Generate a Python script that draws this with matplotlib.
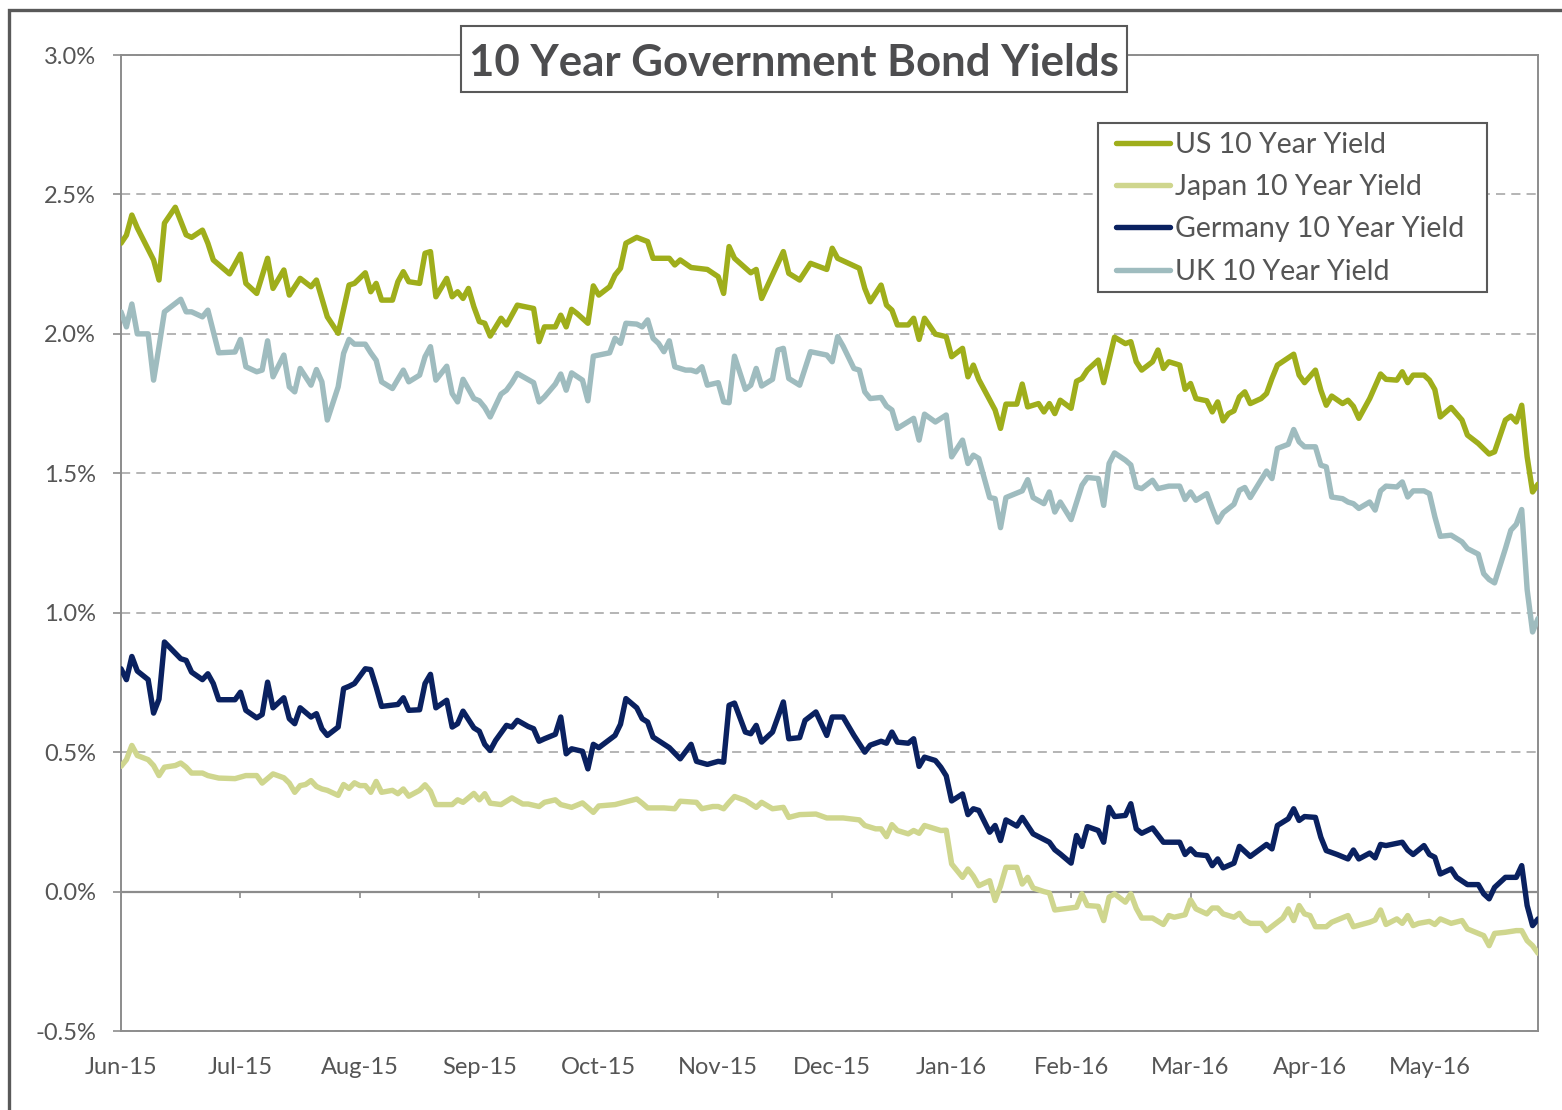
import numpy as np
import matplotlib
matplotlib.use("Agg")
import matplotlib.pyplot as plt
from matplotlib.patches import Rectangle

plt.rcParams['font.family'] = ['Lato', 'DejaVu Sans']

# trading-day index (0 = first day of the chart) and 10y yield in %
US_10Y = [(0, 2.325), (1, 2.354), (2, 2.426), (3, 2.380), (6, 2.265), (7, 2.193), (8, 2.397), (10, 2.454),
          (12, 2.355), (13, 2.346), (15, 2.372), (16, 2.325), (17, 2.265), (20, 2.215), (22, 2.286), (23, 2.181),
          (25, 2.145), (27, 2.271), (28, 2.163), (30, 2.229), (31, 2.139), (33, 2.199), (35, 2.169), (36, 2.193),
          (38, 2.061), (40, 2.002), (42, 2.175), (43, 2.181), (45, 2.219), (46, 2.151), (47, 2.181), (48, 2.121),
          (50, 2.121), (51, 2.187), (52, 2.223), (53, 2.187), (55, 2.181), (56, 2.289), (57, 2.295), (58, 2.133),
          (60, 2.199), (61, 2.133), (62, 2.151), (63, 2.127), (64, 2.163), (65, 2.097), (66, 2.044), (67, 2.038),
          (68, 1.992), (70, 2.056), (71, 2.032), (73, 2.103), (76, 2.091), (77, 1.972), (78, 2.025), (80, 2.025),
          (81, 2.067), (82, 2.025), (83, 2.088), (84, 2.073), (86, 2.038), (87, 2.172), (88, 2.139), (90, 2.169),
          (91, 2.211), (92, 2.235), (93, 2.325), (95, 2.346), (97, 2.331), (98, 2.271), (101, 2.271), (102, 2.247),
          (103, 2.265), (105, 2.238), (108, 2.231), (110, 2.205), (111, 2.145), (112, 2.313), (113, 2.271),
          (116, 2.219), (117, 2.231), (118, 2.127), (122, 2.295), (123, 2.217), (125, 2.193), (127, 2.253),
          (130, 2.231), (131, 2.307), (132, 2.271), (136, 2.235), (137, 2.163), (138, 2.115), (140, 2.175),
          (141, 2.103), (142, 2.085), (143, 2.032), (145, 2.032), (146, 2.056), (147, 1.980), (148, 2.056),
          (150, 1.999), (152, 1.990), (153, 1.918), (155, 1.948), (156, 1.846), (157, 1.888), (158, 1.836),
          (161, 1.727), (162, 1.661), (163, 1.748), (165, 1.748), (166, 1.820), (167, 1.738), (169, 1.750),
          (170, 1.720), (171, 1.750), (172, 1.714), (173, 1.762), (175, 1.733), (176, 1.830), (177, 1.840),
          (178, 1.870), (180, 1.906), (181, 1.825), (183, 1.988), (185, 1.965), (186, 1.972), (187, 1.900),
          (188, 1.870), (190, 1.900), (191, 1.942), (192, 1.876), (193, 1.900), (195, 1.888), (196, 1.801),
          (197, 1.822), (198, 1.768), (200, 1.760), (201, 1.720), (202, 1.756), (203, 1.688), (204, 1.714),
          (205, 1.724), (206, 1.774), (207, 1.792), (208, 1.750), (210, 1.768), (211, 1.786), (212, 1.840),
          (213, 1.888), (216, 1.927), (217, 1.852), (218, 1.825), (220, 1.870), (221, 1.798), (222, 1.744),
          (223, 1.777), (225, 1.750), (226, 1.762), (227, 1.740), (228, 1.697), (230, 1.768), (232, 1.856),
          (233, 1.837), (235, 1.834), (236, 1.864), (237, 1.825), (238, 1.852), (240, 1.852), (241, 1.834),
          (242, 1.800), (243, 1.702), (245, 1.736), (247, 1.691), (248, 1.637), (250, 1.607), (252, 1.569),
          (253, 1.577), (255, 1.691), (256, 1.705), (257, 1.684), (258, 1.744), (259, 1.559), (260, 1.433),
          (261, 1.461)]

JAPAN_10Y = [(0, 0.449), (1, 0.473), (2, 0.524), (3, 0.488), (5, 0.473), (6, 0.452), (7, 0.416), (8, 0.446),
             (10, 0.452), (11, 0.461), (12, 0.446), (13, 0.425), (15, 0.425), (16, 0.416), (18, 0.407), (21, 0.405),
             (23, 0.416), (25, 0.416), (26, 0.389), (28, 0.422), (30, 0.408), (31, 0.389), (32, 0.356), (33, 0.380),
             (34, 0.384), (35, 0.398), (36, 0.377), (37, 0.368), (38, 0.363), (40, 0.345), (41, 0.384), (42, 0.370),
             (43, 0.390), (44, 0.380), (45, 0.380), (46, 0.356), (47, 0.395), (48, 0.356), (50, 0.363), (51, 0.351),
             (52, 0.368), (53, 0.342), (55, 0.363), (56, 0.383), (57, 0.360), (58, 0.312), (61, 0.312), (62, 0.329),
             (63, 0.320), (65, 0.352), (66, 0.329), (67, 0.351), (68, 0.317), (70, 0.312), (72, 0.336), (74, 0.314),
             (75, 0.314), (77, 0.305), (78, 0.320), (80, 0.329), (81, 0.312), (83, 0.302), (85, 0.318), (87, 0.284),
             (88, 0.307), (91, 0.312), (92, 0.317), (95, 0.332), (96, 0.317), (97, 0.300), (100, 0.300), (102, 0.297),
             (103, 0.324), (106, 0.320), (107, 0.297), (109, 0.305), (110, 0.305), (111, 0.297), (112, 0.320),
             (113, 0.341), (115, 0.327), (117, 0.302), (118, 0.320), (120, 0.297), (122, 0.302), (123, 0.266),
             (125, 0.276), (128, 0.278), (130, 0.264), (133, 0.264), (136, 0.257), (137, 0.237), (139, 0.225),
             (140, 0.225), (141, 0.197), (142, 0.240), (143, 0.219), (145, 0.207), (146, 0.219), (147, 0.209),
             (148, 0.237), (151, 0.219), (152, 0.220), (153, 0.099), (154, 0.075), (155, 0.051), (156, 0.081),
             (157, 0.055), (158, 0.021), (160, 0.039), (161, -0.032), (162, 0.020), (163, 0.087), (165, 0.087),
             (166, 0.027), (167, 0.051), (168, 0.013), (170, 0.000), (171, -0.005), (172, -0.066), (176, -0.056),
             (177, -0.008), (178, -0.050), (180, -0.053), (181, -0.104), (182, -0.020), (183, -0.008), (185, -0.038),
             (186, -0.008), (187, -0.060), (188, -0.095), (190, -0.095), (192, -0.118), (193, -0.086), (194, -0.092),
             (196, -0.083), (197, -0.030), (198, -0.062), (200, -0.080), (201, -0.059), (202, -0.059), (203, -0.080),
             (205, -0.092), (206, -0.078), (207, -0.104), (208, -0.114), (210, -0.114), (211, -0.140), (213, -0.110),
             (214, -0.095), (215, -0.062), (216, -0.104), (217, -0.050), (218, -0.080), (219, -0.086), (220, -0.126),
             (222, -0.126), (223, -0.110), (226, -0.086), (227, -0.126), (230, -0.110), (231, -0.102), (232, -0.066),
             (233, -0.118), (235, -0.098), (236, -0.114), (237, -0.086), (238, -0.122), (239, -0.114), (241, -0.107),
             (242, -0.118), (243, -0.098), (245, -0.114), (247, -0.104), (248, -0.134), (249, -0.142), (251, -0.158),
             (252, -0.194), (253, -0.150), (255, -0.146), (257, -0.140), (258, -0.140), (259, -0.176), (260, -0.194),
             (261, -0.221)]

GERMANY_10Y = [(0, 0.799), (1, 0.760), (2, 0.843), (3, 0.791), (5, 0.760), (6, 0.640), (7, 0.690), (8, 0.895),
               (11, 0.835), (12, 0.829), (13, 0.787), (15, 0.760), (16, 0.781), (17, 0.746), (18, 0.688), (21, 0.688),
               (22, 0.715), (23, 0.650), (25, 0.623), (26, 0.635), (27, 0.751), (28, 0.659), (30, 0.695), (31, 0.620),
               (32, 0.602), (33, 0.659), (35, 0.626), (36, 0.638), (37, 0.584), (38, 0.560), (40, 0.590), (41, 0.728),
               (42, 0.736), (43, 0.746), (45, 0.799), (46, 0.796), (47, 0.733), (48, 0.664), (51, 0.671), (52, 0.695),
               (53, 0.650), (55, 0.652), (56, 0.746), (57, 0.779), (58, 0.659), (60, 0.686), (61, 0.590), (62, 0.602),
               (63, 0.647), (65, 0.587), (66, 0.575), (67, 0.528), (68, 0.506), (69, 0.542), (71, 0.596), (72, 0.590),
               (73, 0.614), (75, 0.592), (76, 0.584), (77, 0.539), (78, 0.548), (80, 0.564), (81, 0.626), (82, 0.494),
               (83, 0.512), (85, 0.503), (86, 0.440), (87, 0.528), (88, 0.516), (91, 0.560), (92, 0.600), (93, 0.692),
               (95, 0.659), (96, 0.620), (97, 0.608), (98, 0.554), (101, 0.516), (103, 0.476), (105, 0.528),
               (106, 0.467), (108, 0.456), (110, 0.467), (111, 0.464), (112, 0.668), (113, 0.676), (115, 0.572),
               (116, 0.566), (117, 0.596), (118, 0.536), (120, 0.572), (122, 0.680), (123, 0.548), (125, 0.552),
               (126, 0.614), (128, 0.644), (130, 0.560), (131, 0.626), (133, 0.626), (135, 0.560), (137, 0.500),
               (138, 0.525), (140, 0.539), (141, 0.532), (142, 0.572), (143, 0.536), (145, 0.532), (146, 0.548),
               (147, 0.449), (148, 0.482), (150, 0.470), (151, 0.446), (152, 0.415), (153, 0.325), (155, 0.350),
               (156, 0.276), (157, 0.297), (158, 0.291), (160, 0.213), (161, 0.237), (162, 0.183), (163, 0.257),
               (165, 0.235), (166, 0.266), (168, 0.207), (171, 0.177), (172, 0.150), (173, 0.135), (175, 0.102),
               (176, 0.201), (177, 0.162), (178, 0.233), (180, 0.219), (181, 0.177), (182, 0.302), (183, 0.269),
               (185, 0.273), (186, 0.315), (187, 0.225), (188, 0.209), (190, 0.228), (192, 0.177), (195, 0.177),
               (196, 0.133), (197, 0.153), (198, 0.133), (200, 0.129), (201, 0.093), (202, 0.117), (203, 0.085),
               (205, 0.102), (206, 0.162), (208, 0.126), (211, 0.169), (212, 0.153), (213, 0.237), (215, 0.261),
               (216, 0.297), (217, 0.255), (218, 0.269), (220, 0.266), (221, 0.195), (222, 0.147), (224, 0.133),
               (226, 0.117), (227, 0.149), (228, 0.117), (230, 0.138), (231, 0.121), (232, 0.169), (233, 0.165),
               (236, 0.177), (237, 0.149), (238, 0.133), (240, 0.165), (241, 0.133), (242, 0.123), (243, 0.063),
               (245, 0.081), (246, 0.051), (248, 0.025), (250, 0.025), (251, -0.008), (252, -0.026), (253, 0.015),
               (255, 0.051), (257, 0.051), (258, 0.093), (259, -0.050), (260, -0.122), (261, -0.098)]

UK_10Y = [(0, 2.079), (1, 2.025), (2, 2.107), (3, 2.000), (5, 2.000), (6, 1.834), (7, 1.954), (8, 2.079),
          (11, 2.124), (12, 2.079), (13, 2.079), (15, 2.061), (16, 2.085), (17, 2.008), (18, 1.932), (21, 1.935),
          (22, 1.980), (23, 1.882), (25, 1.864), (26, 1.870), (27, 1.975), (28, 1.846), (30, 1.924), (31, 1.810),
          (32, 1.792), (33, 1.876), (35, 1.816), (36, 1.872), (37, 1.828), (38, 1.691), (40, 1.810), (41, 1.930),
          (42, 1.980), (43, 1.963), (45, 1.963), (46, 1.932), (47, 1.905), (48, 1.828), (50, 1.804), (52, 1.870),
          (53, 1.828), (55, 1.852), (56, 1.918), (57, 1.954), (58, 1.834), (60, 1.884), (61, 1.786), (62, 1.756),
          (63, 1.837), (65, 1.768), (66, 1.760), (67, 1.736), (68, 1.702), (70, 1.784), (71, 1.798), (72, 1.825),
          (73, 1.858), (76, 1.825), (77, 1.756), (78, 1.774), (80, 1.820), (81, 1.856), (82, 1.798), (83, 1.860),
          (85, 1.834), (86, 1.760), (87, 1.920), (88, 1.924), (90, 1.932), (91, 1.984), (92, 1.966), (93, 2.038),
          (95, 2.035), (96, 2.025), (97, 2.050), (98, 1.984), (99, 1.966), (100, 1.936), (101, 1.975), (102, 1.882),
          (104, 1.870), (105, 1.870), (106, 1.864), (107, 1.882), (108, 1.816), (110, 1.825), (111, 1.756),
          (112, 1.753), (113, 1.920), (115, 1.801), (116, 1.816), (117, 1.876), (118, 1.813), (120, 1.837),
          (121, 1.942), (122, 1.948), (123, 1.840), (125, 1.816), (127, 1.936), (130, 1.924), (131, 1.900),
          (132, 1.990), (133, 1.956), (135, 1.876), (136, 1.870), (137, 1.792), (138, 1.768), (140, 1.772),
          (141, 1.741), (142, 1.727), (143, 1.661), (146, 1.697), (147, 1.619), (148, 1.712), (150, 1.684),
          (152, 1.709), (153, 1.559), (155, 1.619), (156, 1.535), (157, 1.565), (158, 1.553), (160, 1.413),
          (161, 1.409), (162, 1.305), (163, 1.413), (166, 1.437), (167, 1.477), (168, 1.413), (170, 1.391),
          (171, 1.433), (172, 1.361), (173, 1.397), (175, 1.334), (177, 1.457), (178, 1.485), (180, 1.481),
          (181, 1.385), (182, 1.535), (183, 1.573), (185, 1.547), (186, 1.530), (187, 1.451), (188, 1.445),
          (190, 1.475), (191, 1.445), (193, 1.454), (195, 1.454), (196, 1.406), (197, 1.433), (198, 1.403),
          (200, 1.427), (201, 1.374), (202, 1.325), (203, 1.358), (205, 1.389), (206, 1.439), (207, 1.449),
          (208, 1.413), (211, 1.508), (212, 1.481), (213, 1.589), (215, 1.604), (216, 1.657), (217, 1.613),
          (218, 1.595), (220, 1.595), (221, 1.529), (222, 1.523), (223, 1.415), (225, 1.409), (226, 1.397),
          (227, 1.391), (228, 1.374), (230, 1.397), (231, 1.368), (232, 1.437), (233, 1.454), (235, 1.451),
          (236, 1.469), (237, 1.415), (238, 1.437), (240, 1.437), (241, 1.427), (242, 1.344), (243, 1.274),
          (245, 1.278), (247, 1.254), (248, 1.230), (250, 1.210), (251, 1.140), (252, 1.119), (253, 1.107),
          (255, 1.230), (256, 1.296), (257, 1.317), (258, 1.370), (259, 1.083), (260, 0.931), (261, 0.979)]

month_pos = [0, 22, 44, 66, 88, 110, 131, 153, 175, 197, 219, 241]
month_labels = ["Jun-15", "Jul-15", "Aug-15", "Sep-15", "Oct-15", "Nov-15", "Dec-15",
                "Jan-16", "Feb-16", "Mar-16", "Apr-16", "May-16"]

series = [
    ("US 10 Year Yield", US_10Y, "#9fae1b"),
    ("Japan 10 Year Yield", JAPAN_10Y, "#cfd68e"),
    ("Germany 10 Year Yield", GERMANY_10Y, "#0a2160"),
    ("UK 10 Year Yield", UK_10Y, "#9fbcbf"),
]

AXIS_GREY = "#8c8c8c"
TEXT_GREY = "#555555"
FRAME_GREY = "#595959"

W, H = 1562, 1110
fig = plt.figure(figsize=(W / 100, H / 100), dpi=100)
ax = fig.add_axes([121 / W, 1 - 1031 / H, (1538 - 121) / W, (1031 - 55) / H])

lines = []
for name, data, col in series:
    d, v = zip(*data)
    ln, = ax.plot(d, v, color=col, lw=3.9, label=name, solid_joinstyle="round",
                  solid_capstyle="round", zorder=3)
    lines.append(ln)

ax.set_xlim(0, 261)
ax.set_ylim(-0.5, 3.0)

yt = np.arange(-0.5, 3.01, 0.5)
ax.set_yticks(yt)
ax.set_yticklabels([f"{t:.1f}%" for t in yt])
ax.set_xticks(month_pos)
ax.set_xticklabels(month_labels)
ax.tick_params(axis="x", length=0, pad=19, labelsize=17, labelcolor=TEXT_GREY)
ax.tick_params(axis="y", length=6, width=1.2, color=AXIS_GREY, pad=12, labelsize=17, labelcolor=TEXT_GREY)

ax.yaxis.grid(True, color="#a0a0a0", lw=1.1, ls=(0, (6, 4)), zorder=1)
ax.set_axisbelow(True)
for sp in ax.spines.values():
    sp.set_color(AXIS_GREY)
    sp.set_linewidth(1.4)

# zero line with its small month ticks
ax.axhline(0, color=AXIS_GREY, lw=1.6, zorder=2)
ax.vlines(month_pos, -0.022, 0, color=AXIS_GREY, lw=1.2, zorder=2)

# legend: white box drawn at figure level, entries on top of it
fig.add_artist(Rectangle((1098 / W, 1 - 292 / H), 389 / W, 169 / H, transform=fig.transFigure,
                         facecolor="white", edgecolor=FRAME_GREY, lw=1.5, zorder=4))
leg = fig.legend(lines, [s[0] for s in series], loc="upper left",
                 bbox_to_anchor=(1116 / W, 1 - 132 / H), bbox_transform=fig.transFigure,
                 frameon=False, borderaxespad=0, borderpad=0, fontsize=20.5, handlelength=1.9,
                 handletextpad=0.18, labelspacing=0.57)
leg.set_zorder(5)
for t in leg.get_texts():
    t.set_color(TEXT_GREY)

# title box
fig.add_artist(Rectangle((461 / W, 1 - 92 / H), 666 / W, 66 / H, transform=fig.transFigure,
                         facecolor="white", edgecolor=FRAME_GREY, lw=1.5, zorder=5))
fig.text(794 / W, 1 - 63 / H, "10 Year Government Bond Yields", ha="center", va="center",
         fontsize=31.5, fontweight="bold", color="#4d4d4f", zorder=6)

# outer chart frame (only left and top edges fall inside the picture)
fig.add_artist(Rectangle((9 / W, -0.1), 1.2, 1.1 - 10 / H, transform=fig.transFigure,
                         facecolor="none", edgecolor=FRAME_GREY, lw=2.4, zorder=6))

fig.savefig("out.png", dpi=100)
